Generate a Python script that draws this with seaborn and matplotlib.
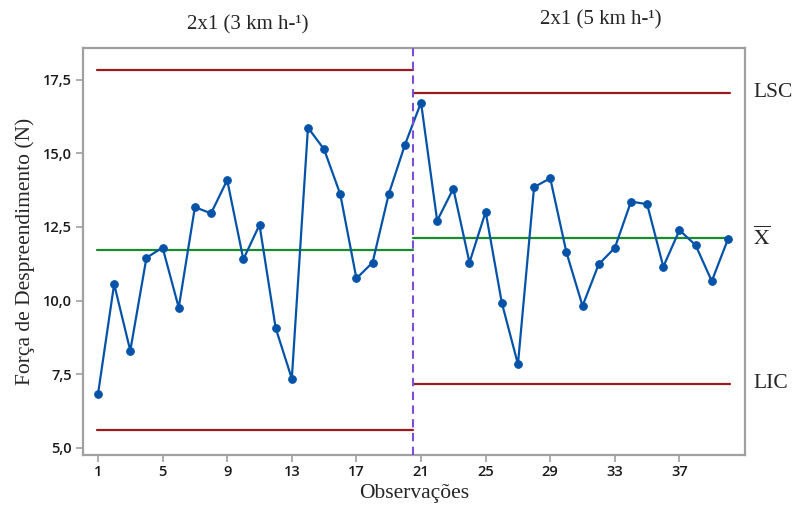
import numpy as np
import pandas as pd
import matplotlib
matplotlib.use("Agg")
import matplotlib.pyplot as plt
import seaborn as sns

# ---- data ----
observacoes = list(range(1, 41))
forca = [6.82, 10.56, 8.30, 11.45, 11.80, 9.76, 13.17, 12.96, 14.09, 11.40,
         12.57, 9.07, 7.35, 15.87, 15.13, 13.61, 10.75, 11.29, 13.61, 15.28,
         16.72, 12.71, 13.80, 11.29, 13.01, 9.93, 7.84, 13.85, 14.15, 11.64,
         9.82, 11.23, 11.79, 13.36, 13.27, 11.15, 12.39, 11.88, 10.66, 12.08]
stage_titles = ["2x1 (3 km h-\u00b9)", "2x1 (5 km h-\u00b9)"]
lsc = [17.83, 17.06]
media = [11.72, 12.13]
lic = [5.62, 7.17]
stage_bounds = [(0.92, 20.5), (20.5, 40.12)]
xticks = [1, 5, 9, 13, 17, 21, 25, 29, 33, 37]
yticks = [5.0, 7.5, 10.0, 12.5, 15.0, 17.5]
ytick_labels = ["5,0", "7,5", "10,0", "12,5", "15,0", "17,5"]
right_labels = ["LSC", r"$\overline{\mathrm{X}}$", "LIC"]

sns.set_style("white")
plt.rcParams["font.family"] = ["Liberation Serif", "DejaVu Serif"]
plt.rcParams["mathtext.fontset"] = "stix"

fig = plt.figure(figsize=(7.92, 5.12), dpi=100)
ax = fig.add_axes([0.1044, 0.1113, 0.8363, 0.7955])

df = pd.DataFrame({"obs": observacoes, "forca": forca})
sns.lineplot(data=df, x="obs", y="forca", ax=ax, color="#0553a8", lw=1.6,
             marker="o", markersize=5.5, markeredgecolor="#0553a8", zorder=4)

red = "#9b1b1f"
green = "#1b8a2a"
for i, (x0, x1) in enumerate(stage_bounds):
    ax.plot([x0, x1], [lsc[i], lsc[i]], color=red, lw=1.6, zorder=3)
    ax.plot([x0, x1], [lic[i], lic[i]], color=red, lw=1.6, zorder=3)
    ax.plot([x0, x1], [media[i], media[i]], color=green, lw=1.6, zorder=3)

ax.axvline(20.5, color="#7d4fd8", lw=1.5, ls=(0, (4, 2.6)), zorder=5)

ax.set_xlim(0.053, 41.06)
ax.set_ylim(4.76, 18.58)
ax.set_xticks(xticks)
ax.set_xticklabels([str(t) for t in xticks])
ax.set_yticks(yticks)
ax.set_yticklabels(ytick_labels)

for lab in ax.get_xticklabels() + ax.get_yticklabels():
    lab.set_fontfamily(["Open Sans", "DejaVu Sans"])
    lab.set_fontsize(10.5)
    lab.set_fontweight("semibold")
    lab.set_color("#1a1a1a")

for sp in ax.spines.values():
    sp.set_color("#a0a0a0")
    sp.set_linewidth(1.6)
ax.tick_params(axis="both", direction="out", length=5, width=1.2,
               color="#a0a0a0", left=True, bottom=True, pad=2.5)

ax.set_xlabel("Observações", fontsize=15.5, labelpad=3)
ax.set_ylabel("Força de Despreendimento (N)", fontsize=15.5, labelpad=6)

# stage titles
fig.text(247.5 / 792, 1 - 25 / 512, stage_titles[0], fontsize=15,
         ha="center", va="center")
fig.text(601 / 792, 1 - 20 / 512, stage_titles[1], fontsize=15,
         ha="center", va="center")

# right-side labels
for lab, val in zip(right_labels, [lsc[1], media[1], lic[1]]):
    ax.text(1.012, val, lab, transform=ax.get_yaxis_transform(),
            fontsize=15.5, ha="left", va="center", clip_on=False)

fig.savefig("out.png", dpi=100)
